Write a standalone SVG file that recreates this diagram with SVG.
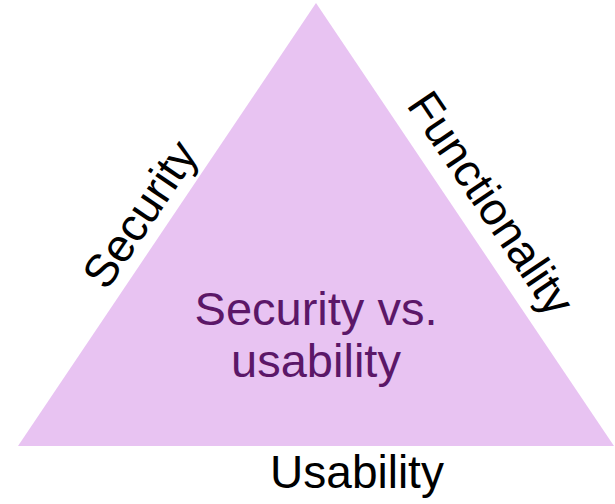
<svg xmlns="http://www.w3.org/2000/svg" width="615" height="504" viewBox="0 0 615 504">
<style>
.lbl{font-family:"Liberation Sans",Arial,sans-serif;font-size:46px;fill:#000;text-anchor:middle}
.ctr{font-family:"Liberation Sans",Arial,sans-serif;font-size:47px;fill:#5B1768;text-anchor:middle}
</style>
<rect width="615" height="504" fill="#fff"/>
<g id="triangle">
<polygon points="316,3 18,446 614,446" fill="#E8C3F2"/>
<text class="ctr" x="316" y="325">Security vs.</text>
<text class="ctr" x="316" y="377">usability</text>
</g>
<g id="security"><text class="lbl" transform="translate(153,223) rotate(-56)">Security</text></g>
<g id="functionality"><text class="lbl" transform="translate(478,212) rotate(56)">Functionality</text></g>
<g id="usability"><text class="lbl" x="357" y="488">Usability</text></g>
<g id="connectors"></g>
</svg>
